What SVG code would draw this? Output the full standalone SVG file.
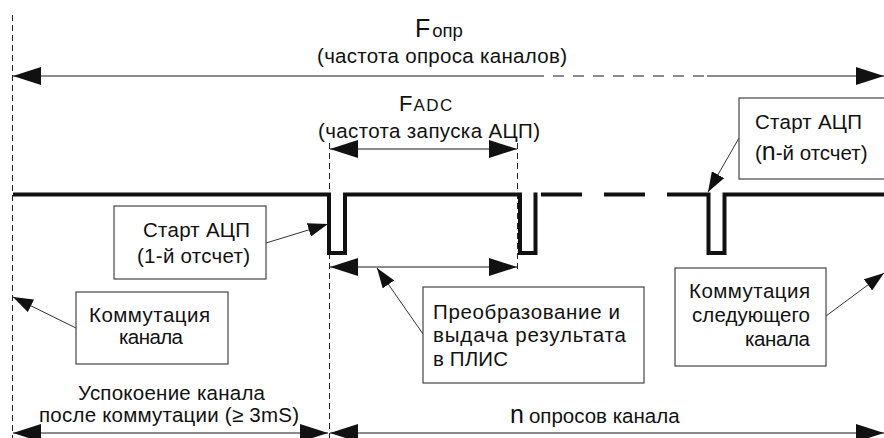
<svg xmlns="http://www.w3.org/2000/svg" width="884" height="438" viewBox="0 0 884 438">
<defs>
<style>
text{font-family:"Liberation Sans",Arial,sans-serif;font-size:20.5px;fill:#111}
.box{fill:#fff;stroke:#444;stroke-width:1.2}
.dim{stroke:#666;stroke-width:1.6;fill:none}
.ptr{stroke:#333;stroke-width:1;fill:none}
.vd{stroke:#222;stroke-width:1;stroke-dasharray:6 4;fill:none}
.wave{stroke:#111;stroke-width:4;fill:none;stroke-linejoin:miter;stroke-linecap:butt}
</style>
<marker id="dh" viewBox="0 0 28 18" refX="28" refY="9" markerWidth="28" markerHeight="18" markerUnits="userSpaceOnUse" orient="auto-start-reverse">
<path d="M0,0 L28,9 L0,18 z" fill="#111"/>
</marker>
<marker id="ph" viewBox="0 0 20 14" refX="20" refY="7" markerWidth="20" markerHeight="14" markerUnits="userSpaceOnUse" orient="auto">
<path d="M0,0 L20,7 L0,14 z" fill="#111"/>
</marker>
</defs>
<rect width="884" height="438" fill="#fff"/>

<g id="guides">
<line class="vd" x1="12.5" y1="15" x2="12.5" y2="438"/>
<line class="vd" x1="329.5" y1="143" x2="329.5" y2="438"/>
<line class="vd" x1="517.5" y1="143" x2="517.5" y2="270"/>
</g>

<g id="waveform">
<path class="wave" d="M13,194.5 H329 V253 H345 V194.5 H520 V253 H535.5 V192.5"/>
<path class="wave" d="M541,194.5 H582 M604,194.5 H645 M667,194.5 H708.5 V253 H724.5 V194.5 H884"/>
</g>

<g id="connectors">
<line class="dim" x1="13" y1="76" x2="533" y2="76" marker-start="url(#dh)"/>
<line class="dim" x1="533" y1="76" x2="707" y2="76" stroke-dasharray="11 9"/>
<line class="dim" x1="707" y1="76" x2="884" y2="76" marker-end="url(#dh)"/>
<line class="dim" x1="330" y1="149" x2="517" y2="149" marker-start="url(#dh)" marker-end="url(#dh)"/>
<line class="dim" x1="330" y1="267" x2="517" y2="267" marker-start="url(#dh)" marker-end="url(#dh)"/>
<line class="dim" x1="13" y1="433" x2="328" y2="433" marker-start="url(#dh)" marker-end="url(#dh)"/>
<line class="dim" x1="330" y1="433" x2="884" y2="433" marker-start="url(#dh)" marker-end="url(#dh)"/>
<line class="ptr" x1="266" y1="243" x2="328" y2="224" marker-end="url(#ph)"/>
<line class="ptr" x1="76" y1="328" x2="13" y2="297" marker-end="url(#ph)"/>
<line class="ptr" x1="423" y1="334" x2="377" y2="268" marker-end="url(#ph)"/>
<line class="ptr" x1="826" y1="316" x2="884" y2="273" marker-end="url(#ph)"/>
<line class="ptr" x1="739" y1="138" x2="708" y2="192" marker-end="url(#ph)"/>
</g>

<g id="label-fopr">
<text x="415" y="37"><tspan font-size="25">F</tspan><tspan font-size="18.5" dx="2">опр</tspan></text>
<text x="317" y="63" textLength="250" lengthAdjust="spacing">(частота опроса каналов)</text>
</g>

<g id="label-fadc">
<text x="399" y="111"><tspan font-size="22">F</tspan><tspan font-size="17" dx="1" letter-spacing="1.5">ADC</tspan></text>
<text x="318" y="138" textLength="222" lengthAdjust="spacing">(частота запуска АЦП)</text>
</g>

<g id="node-start1">
<rect class="box" x="114" y="206" width="152" height="73"/>
<text x="143" y="237" textLength="107" lengthAdjust="spacing">Старт АЦП</text>
<text x="137" y="263" textLength="113" lengthAdjust="spacing">(1-й отсчет)</text>
</g>

<g id="node-kommut">
<rect class="box" x="76" y="292" width="152" height="72"/>
<text x="89" y="322" textLength="121" lengthAdjust="spacing">Коммутация</text>
<text x="119" y="344" textLength="64" lengthAdjust="spacing">канала</text>
</g>

<g id="node-preobr">
<rect class="box" x="423" y="287" width="221" height="96"/>
<text x="433" y="319" textLength="187" lengthAdjust="spacing">Преобразование и</text>
<text x="433" y="342" textLength="193" lengthAdjust="spacing">выдача результата</text>
<text x="433" y="366" textLength="75" lengthAdjust="spacing">в ПЛИС</text>
</g>

<g id="node-next">
<rect class="box" x="675" y="268" width="151" height="98"/>
<text x="689" y="298" textLength="121" lengthAdjust="spacing">Коммутация</text>
<text x="692" y="322" textLength="118" lengthAdjust="spacing">следующего</text>
<text x="745" y="346" textLength="65" lengthAdjust="spacing">канала</text>
</g>

<g id="node-startn">
<rect class="box" x="739" y="98" width="160" height="81"/>
<text x="755" y="129" textLength="107" lengthAdjust="spacing">Старт АЦП</text>
<text x="755" y="160">(<tspan font-size="25">n</tspan>-й отсчет)</text>
</g>

<g id="label-bottom">
<text x="78" y="400" font-size="19.5" textLength="187" lengthAdjust="spacing">Успокоение канала</text>
<text x="39" y="422" font-size="19.5" textLength="260" lengthAdjust="spacing">после коммутации (≥ 3mS)</text>
<text x="510" y="423"><tspan font-size="25">n</tspan><tspan dx="5">опросов канала</tspan></text>
</g>
</svg>
